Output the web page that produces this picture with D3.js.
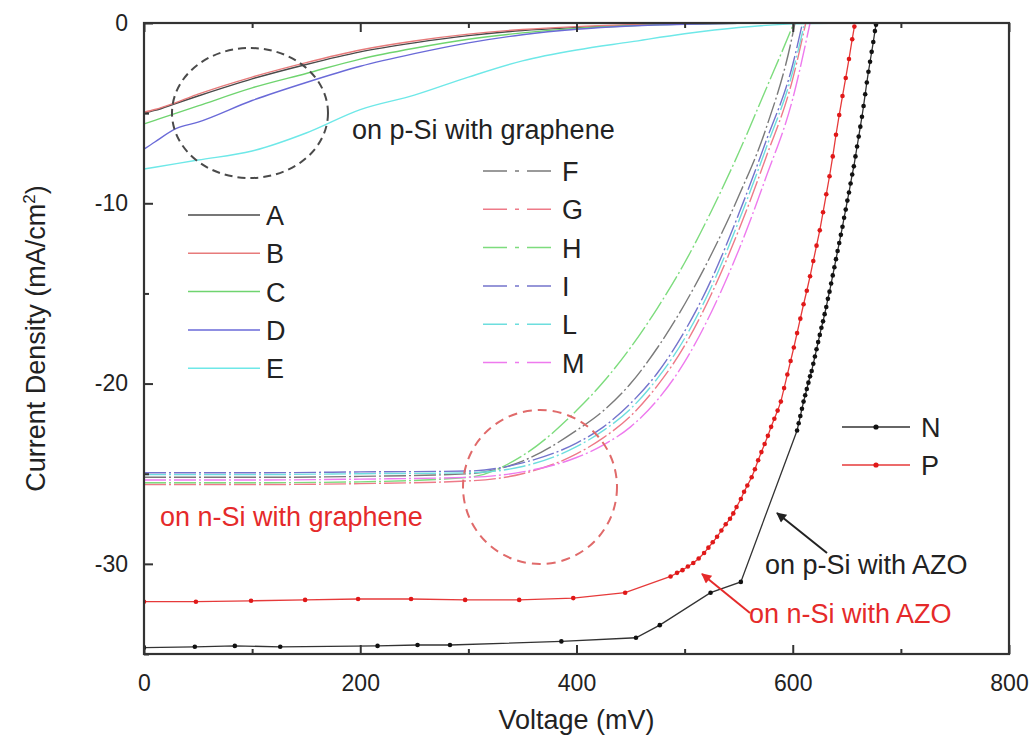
<!DOCTYPE html>
<html>
<head>
<meta charset="utf-8">
<script src="https://cdnjs.cloudflare.com/ajax/libs/d3/7.8.5/d3.min.js"></script>
<style>
body { margin: 0; background: #fff; }
text { font-family: "Liberation Sans", Arial, sans-serif; fill: #222; }
</style>
</head>
<body>
<script>
// J-V curves : voltage in mV, current density in mA/cm2

// on p-Si with graphene (solid lines)
var pGraV = [0, 10, 30, 50, 100, 150, 200, 250, 300, 350, 400, 450, 500, 550, 600, 650];
var curA = [-5.0, -4.85, -4.45, -4.05, -3.1, -2.3, -1.6, -1.1, -0.7, -0.42, -0.25, -0.12, -0.05, -0.01, 0, 0];
var curB = [-4.95, -4.8, -4.4, -3.95, -3.0, -2.2, -1.5, -1.0, -0.62, -0.36, -0.2, -0.1, -0.03, 0, 0, 0];
var curC = [-5.6, -5.4, -5.0, -4.6, -3.6, -2.8, -2.0, -1.4, -0.9, -0.55, -0.3, -0.15, -0.06, -0.01, 0, 0];
var curD = [-7.0, -6.6, -5.85, -5.5, -4.3, -3.3, -2.4, -1.7, -1.1, -0.65, -0.35, -0.17, -0.07, -0.02, 0, 0];
var curE = [-8.1, -8.0, -7.8, -7.6, -7.1, -6.1, -4.8, -4.0, -3.0, -2.1, -1.5, -1.05, -0.6, -0.25, -0.05, 0];

// on n-Si with graphene (dash-dot lines)
var nGraV = [0, 100, 200, 300, 350, 400, 425, 450, 475, 500, 525, 550, 575, 600];
var curF = [-25.2, -25.2, -25.15, -25.0, -24.3, -22.6, -21.5, -20.0, -18.0, -15.6, -12.8, -9.6, -5.9, -0.6];
var curG = [-25.6, -25.6, -25.55, -25.4, -25.0, -23.9, -23.0, -21.8, -20.1, -17.9, -15.0, -11.5, -7.5, -3.1];
var curH = [-25.5, -25.5, -25.45, -25.2, -24.0, -21.5, -19.9, -18.0, -15.8, -13.3, -10.4, -7.2, -3.7, -0.15];
var curI = [-24.95, -24.95, -24.9, -24.85, -24.4, -23.3, -22.4, -21.1, -19.4, -17.1, -14.2, -10.6, -6.6, -2.3];
var curL = [-25.05, -25.05, -25.0, -24.95, -24.6, -23.5, -22.6, -21.4, -19.7, -17.5, -14.6, -11.0, -7.0, -2.7];
var curM = [-25.35, -25.35, -25.3, -25.2, -24.9, -24.1, -23.4, -22.4, -20.9, -18.8, -16.0, -12.6, -8.6, -4.2];
// voltage where each curve meets J = 0
var endF = 602, endG = 612, endH = 601, endI = 609, endL = 611, endM = 616;

// on p-Si with AZO (N)
var nV = [0, 47, 84, 126, 216, 253, 283, 386, 455, 477, 524, 552,
  604, 605.5, 607, 608.5, 610, 611.5, 613, 614.5, 616, 617.5, 619, 620.5, 622, 623.5, 625, 626.5, 628,
  629.5, 631, 632.5, 634, 635.5, 637, 638.5, 640, 641.5, 643, 644.5, 646, 647.5, 649, 650.5, 652,
  653.5, 655, 656.5, 658, 659.5, 661, 662.5, 664, 665.5, 667, 668.5, 670, 671.5, 673, 674.5, 676, 677];
var nJ = [-34.65, -34.6, -34.55, -34.6, -34.55, -34.5, -34.5, -34.3, -34.1, -33.4, -31.6, -31.0,
  -22.6, -22.2, -21.8, -21.4, -21.0, -20.65, -20.3, -19.95, -19.6, -19.3, -18.9, -18.5, -18.1, -17.7, -17.3, -16.9, -16.55,
  -16.15, -15.75, -15.3, -14.9, -14.45, -14.0, -13.55, -13.1, -12.65, -12.2, -11.75, -11.3, -10.8, -10.35, -9.85, -9.4,
  -8.9, -8.4, -7.95, -7.4, -6.85, -6.3, -5.75, -5.2, -4.6, -3.95, -3.3, -2.7, -2.15, -1.6, -1.05, -0.45, -0.1];

// on n-Si with AZO (P)
var pV = [0, 48, 99, 149, 198, 247, 297, 347, 397, 445, 487, 493, 498, 503, 508, 513, 518, 522, 526, 530,
  534, 538, 542, 545, 548, 552, 555, 558, 562, 565, 568, 571, 574, 577, 580, 583, 586, 589, 592, 595,
  598, 601, 604, 607, 610, 613, 616, 619, 622, 625, 628, 631, 634, 637, 640, 643, 646, 649, 652, 655, 657];
var pJ = [-32.1, -32.1, -32.05, -32.0, -31.95, -31.95, -32.0, -32.0, -31.9, -31.6, -30.7, -30.5, -30.35, -30.15, -29.95, -29.7, -29.4, -29.1, -28.8, -28.5,
  -28.15, -27.8, -27.5, -27.2, -26.85, -26.4, -26.0, -25.65, -25.2, -24.75, -24.25, -23.8, -23.35, -22.9, -22.4, -21.95, -21.5, -21.0, -20.25, -19.5,
  -18.75, -18.0, -17.2, -16.4, -15.6, -14.85, -14.05, -13.2, -12.35, -11.5, -10.5, -9.5, -8.5, -7.4, -6.2, -5.1, -4.05, -3.05, -2.0, -0.9, -0.2];

var xMajor = [0, 200, 400, 600, 800];
var xMinor = [100, 300, 500, 700];
var yMajor = [0, -10, -20, -30];
var yMinor = [-5, -15, -25, -35];

var zip = function(vs, js) { return vs.map(function(v, i) { return [v, js[i]]; }); };

var solidSeries = [
  {name: 'A', color: '#4a4a4a', pts: zip(pGraV, curA)},
  {name: 'B', color: '#e77b7b', pts: zip(pGraV, curB)},
  {name: 'C', color: '#6fd46f', pts: zip(pGraV, curC)},
  {name: 'D', color: '#6a6ad8', pts: zip(pGraV, curD)},
  {name: 'E', color: '#6ee8e8', pts: zip(pGraV, curE)}
];
var dashSeries = [
  {name: 'F', color: '#7a7a7a', pts: zip(nGraV.concat([endF]), curF.concat([0]))},
  {name: 'G', color: '#ee7a88', pts: zip(nGraV.concat([endG]), curG.concat([0]))},
  {name: 'H', color: '#7ddc7d', pts: zip(nGraV.concat([endH]), curH.concat([0]))},
  {name: 'I', color: '#7474cc', pts: zip(nGraV.concat([endI]), curI.concat([0]))},
  {name: 'L', color: '#6ddede', pts: zip(nGraV.concat([endL]), curL.concat([0]))},
  {name: 'M', color: '#ee7aee', pts: zip(nGraV.concat([endM]), curM.concat([0]))}
];
var azoSeries = [
  {name: 'P', color: '#e63a3a', dot: '#e01818', pts: zip(pV, pJ)},
  {name: 'N', color: '#333', dot: '#111', pts: zip(nV, nJ)}
];

var width = 1030, height = 744;
var plotL = 144, plotR = 1009, plotT = 23, plotB = 654;

var svg = d3.select('body').append('svg')
  .attr('width', width)
  .attr('height', height);

var x = d3.scaleLinear().domain([0, 800]).range([plotL, plotR]);
var y = d3.scaleLinear().domain([-35, 0]).range([plotB, plotT]);

svg.append('clipPath').attr('id', 'plotClip')
  .append('rect')
  .attr('x', plotL).attr('y', plotT)
  .attr('width', plotR - plotL).attr('height', plotB - plotT);

var line = d3.line()
  .x(function(d) { return x(d[0]); })
  .y(function(d) { return y(d[1]); })
  .curve(d3.curveMonotoneX);

var plot = svg.append('g').attr('clip-path', 'url(#plotClip)');

// p-Si graphene curves
plot.selectAll('.solid')
  .data(solidSeries)
  .enter()
  .append('path')
  .attr('class', 'solid')
  .attr('d', function(d) { return line(d.pts); })
  .attr('fill', 'none')
  .attr('stroke', function(d) { return d.color; })
  .attr('stroke-width', 1.4);

// n-Si graphene curves
plot.selectAll('.dashed')
  .data(dashSeries)
  .enter()
  .append('path')
  .attr('class', 'dashed')
  .attr('d', function(d) { return line(d.pts); })
  .attr('fill', 'none')
  .attr('stroke', function(d) { return d.color; })
  .attr('stroke-width', 1.4)
  .attr('stroke-dasharray', '22,3,2,3');

// AZO curves with markers
azoSeries.forEach(function(s) {
  plot.append('path')
    .attr('d', d3.line().x(function(d) { return x(d[0]); }).y(function(d) { return y(d[1]); })(s.pts))
    .attr('fill', 'none')
    .attr('stroke', s.color)
    .attr('stroke-width', 1.3);
  plot.selectAll('.dot' + s.name)
    .data(s.pts)
    .enter()
    .append('circle')
    .attr('class', 'dot' + s.name)
    .attr('cx', function(d) { return x(d[0]); })
    .attr('cy', function(d) { return y(d[1]); })
    .attr('r', 2.3)
    .attr('fill', s.dot);
});

// axes (ticks inward)
var fmt = function(d) { return String(d); };
var noLabel = function() { return ''; };

svg.append('g').attr('transform', 'translate(0,' + plotB + ')')
  .call(d3.axisBottom(x).tickValues(xMajor).tickSize(-9).tickPadding(21).tickFormat(fmt));
svg.append('g').attr('transform', 'translate(0,' + plotB + ')')
  .call(d3.axisBottom(x).tickValues(xMinor).tickSize(-5).tickFormat(noLabel));
svg.append('g').attr('transform', 'translate(0,' + plotT + ')')
  .call(d3.axisTop(x).tickValues(xMajor).tickSize(-9).tickFormat(noLabel));
svg.append('g').attr('transform', 'translate(0,' + plotT + ')')
  .call(d3.axisTop(x).tickValues(xMinor).tickSize(-5).tickFormat(noLabel));
svg.append('g').attr('transform', 'translate(' + plotL + ',0)')
  .call(d3.axisLeft(y).tickValues(yMajor).tickSize(-9).tickPadding(16).tickFormat(fmt));
svg.append('g').attr('transform', 'translate(' + plotL + ',0)')
  .call(d3.axisLeft(y).tickValues(yMinor).tickSize(-5).tickFormat(noLabel));

svg.selectAll('.domain').remove();
svg.selectAll('.tick line').attr('stroke', '#333').attr('stroke-width', 2);
svg.selectAll('.tick text').attr('font-size', 23).attr('fill', '#222')
  .attr('font-family', '"Liberation Sans", Arial, sans-serif');

svg.append('rect')
  .attr('x', plotL).attr('y', plotT)
  .attr('width', plotR - plotL).attr('height', plotB - plotT)
  .attr('fill', 'none')
  .attr('stroke', '#333')
  .attr('stroke-width', 2.2);

// axis titles
svg.append('text')
  .attr('x', (plotL + plotR) / 2)
  .attr('y', 729)
  .attr('text-anchor', 'middle')
  .attr('font-size', 27)
  .text('Voltage (mV)');

var yt = svg.append('text')
  .attr('transform', 'translate(45,' + ((plotT + plotB) / 2) + ') rotate(-90)')
  .attr('text-anchor', 'middle')
  .attr('font-size', 27);
yt.append('tspan').text('Current Density (mA/cm');
yt.append('tspan').attr('dy', -10).attr('font-size', 17).text('2');
yt.append('tspan').attr('dy', 10).text(')');

// legends
var legA = svg.append('g');
solidSeries.forEach(function(s, i) {
  var ly = 215 + i * 38.3;
  legA.append('line').attr('x1', 188).attr('x2', 260).attr('y1', ly).attr('y2', ly)
    .attr('stroke', s.color).attr('stroke-width', 1.5);
  legA.append('text').attr('x', 266).attr('y', ly + 10).attr('font-size', 27).text(s.name);
});

var legF = svg.append('g');
dashSeries.forEach(function(s, i) {
  var ly = 171 + i * 38.3;
  legF.append('line').attr('x1', 483).attr('x2', 555).attr('y1', ly).attr('y2', ly)
    .attr('stroke', s.color).attr('stroke-width', 1.5)
    .attr('stroke-dasharray', '24,8,4,8');
  legF.append('text').attr('x', 562).attr('y', ly + 10).attr('font-size', 27).text(s.name);
});

[{s: azoSeries[1], ly: 427}, {s: azoSeries[0], ly: 465}].forEach(function(e) {
  svg.append('line').attr('x1', 842).attr('x2', 910).attr('y1', e.ly).attr('y2', e.ly)
    .attr('stroke', e.s.color).attr('stroke-width', 1.3);
  svg.append('circle').attr('cx', 876).attr('cy', e.ly).attr('r', 2.6).attr('fill', e.s.dot);
  svg.append('text').attr('x', 921).attr('y', e.ly + 10).attr('font-size', 27).text(e.s.name);
});

// annotations
svg.append('text').attr('x', 352).attr('y', 139).attr('font-size', 27)
  .text('on p-Si with graphene');
svg.append('text').attr('x', 160).attr('y', 526).attr('font-size', 27)
  .style('fill', '#e52a2a')
  .text('on n-Si with graphene');
svg.append('text').attr('x', 765).attr('y', 574).attr('font-size', 27)
  .text('on p-Si with AZO');
svg.append('text').attr('x', 749).attr('y', 623).attr('font-size', 27)
  .style('fill', '#e52a2a')
  .text('on n-Si with AZO');

svg.append('ellipse')
  .attr('cx', 250).attr('cy', 113).attr('rx', 78).attr('ry', 65)
  .attr('fill', 'none').attr('stroke', '#4a4a4a').attr('stroke-width', 2)
  .attr('stroke-dasharray', '8,5');
svg.append('circle')
  .attr('cx', 540).attr('cy', 487).attr('r', 77)
  .attr('fill', 'none').attr('stroke', '#e06a6a').attr('stroke-width', 2)
  .attr('stroke-dasharray', '9,6');

// arrows
var defs = svg.append('defs');
[['arrBlack', '#222'], ['arrRed', '#e52a2a']].forEach(function(a) {
  defs.append('marker')
    .attr('id', a[0])
    .attr('viewBox', '0 0 10 10')
    .attr('refX', 9).attr('refY', 5)
    .attr('markerWidth', 14).attr('markerHeight', 10)
    .attr('markerUnits', 'userSpaceOnUse')
    .attr('orient', 'auto')
    .append('path').attr('d', 'M0,0 L10,5 L0,10 Z').attr('fill', a[1]);
});
svg.append('line').attr('x1', 827).attr('y1', 553).attr('x2', 777).attr('y2', 513)
  .attr('stroke', '#222').attr('stroke-width', 2).attr('marker-end', 'url(#arrBlack)');
svg.append('line').attr('x1', 750).attr('y1', 613).attr('x2', 702).attr('y2', 574)
  .attr('stroke', '#e52a2a').attr('stroke-width', 2).attr('marker-end', 'url(#arrRed)');
</script>
</body>
</html>
